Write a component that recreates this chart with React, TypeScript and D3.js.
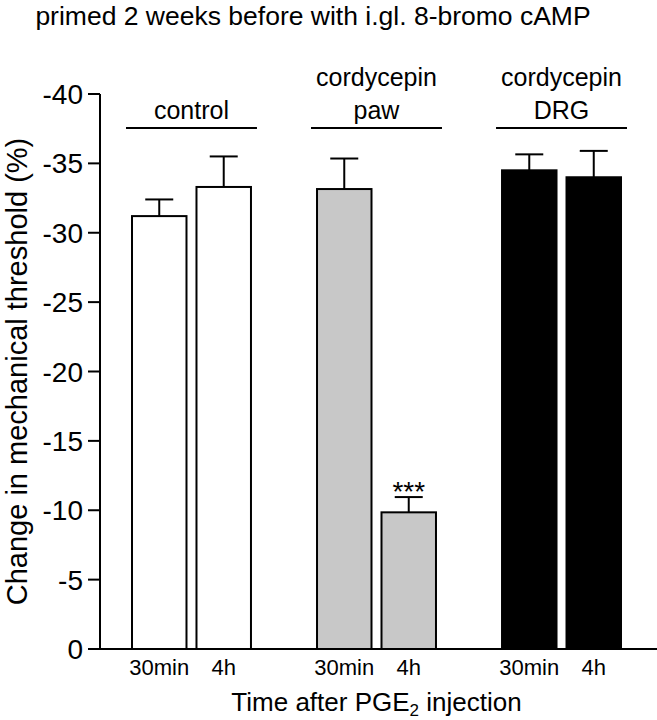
import React from 'react';
import * as d3 from 'd3';

const title = 'primed 2 weeks before with i.gl. 8-bromo cAMP';
const groups = ['control', 'cordycepin paw', 'cordycepin DRG'];
const groupLabelLines = [['control'], ['cordycepin', 'paw'], ['cordycepin', 'DRG']];
const times = ['30min', '4h'];
const controlMeans = [-31.2, -33.3];
const controlSem = [1.2, 2.2];
const pawMeans = [-33.15, -9.85];
const pawSem = [2.2, 1.1];
const drgMeans = [-34.5, -34.0];
const drgSem = [1.15, 1.9];
const groupFills = ['#ffffff', '#c8c8c8', '#000000'];
const significance = [['', ''], ['', '***'], ['', '']];
const yTicks = [0, -5, -10, -15, -20, -25, -30, -35, -40];
const yLabel = 'Change in mechanical threshold (%)';

const means = [controlMeans, pawMeans, drgMeans];
const sems = [controlSem, pawSem, drgSem];

const W = 657;
const H = 720;
const axisX = 100;
const font = 'Liberation Sans, Arial, Helvetica, sans-serif';

export default function App() {
  const y = d3.scaleLinear().domain([0, -40]).range([649, 94]);
  const xg = d3.scaleBand<string>().domain(groups).range([axisX, 653]).paddingInner(0.357).paddingOuter(0.173);
  const xt = d3.scaleBand<string>().domain(times).range([0, xg.bandwidth()]).paddingInner(0.155);
  const bw = xt.bandwidth();
  const capHalf = 14;

  return (
    <svg width={W} height={H} style={{ position: 'absolute', left: 0, top: 0, background: '#fff' }} fontFamily={font}>
      <rect x={0} y={0} width={W} height={H} fill="#fff" />
      <text x={313} y={25} textAnchor="middle" fontSize={26.5} fill="#000">{title}</text>

      {/* y axis */}
      <line x1={axisX} x2={axisX} y1={y(-40)} y2={y(0)} stroke="#000" strokeWidth={2} />
      {yTicks.map((t) => (
        <g key={t}>
          <line x1={axisX - 12} x2={axisX} y1={y(t)} y2={y(t)} stroke="#000" strokeWidth={2} />
          <text x={axisX - 17} y={y(t)} dy="0.36em" textAnchor="end" fontSize={28} fill="#000">{t}</text>
        </g>
      ))}
      <text transform={`translate(27, ${(y(0) + y(-40)) / 2}) rotate(-90)`} textAnchor="middle" fontSize={29} fill="#000">{yLabel}</text>

      {/* bars */}
      {groups.map((g, gi) => (
        <g key={g}>
          {times.map((t, ti) => {
            const x0 = (xg(g) as number) + (xt(t) as number);
            const cx = x0 + bw / 2;
            const m = means[gi][ti];
            const s = sems[gi][ti];
            const top = y(m);
            const capY = y(m - s);
            return (
              <g key={t}>
                <line x1={cx} x2={cx} y1={top} y2={capY} stroke="#000" strokeWidth={2} />
                <line x1={cx - capHalf} x2={cx + capHalf} y1={capY} y2={capY} stroke="#000" strokeWidth={2} />
                <rect x={x0} y={top} width={bw} height={y(0) - top} fill={groupFills[gi]} stroke="#000" strokeWidth={2} />
                {significance[gi][ti] && (
                  <text x={cx} y={capY + 4} textAnchor="middle" fontSize={28} fill="#000">{significance[gi][ti]}</text>
                )}
                <text x={cx} y={675} textAnchor="middle" fontSize={22} fill="#000">{t}</text>
              </g>
            );
          })}
          <line x1={(xg(g) as number) - 6} x2={(xg(g) as number) + xg.bandwidth() + 6} y1={128} y2={128} stroke="#000" strokeWidth={2} />
          {groupLabelLines[gi].map((ln, li, arr) => (
            <text key={li} x={(xg(g) as number) + xg.bandwidth() / 2} y={119 - (arr.length - 1 - li) * 33} textAnchor="middle" fontSize={25} fill="#000">{ln}</text>
          ))}
        </g>
      ))}

      {/* baseline */}
      <line x1={axisX} x2={W} y1={y(0)} y2={y(0)} stroke="#000" strokeWidth={2} />

      <text x={(xg(groups[1]) as number) + xg.bandwidth() / 2} y={711} textAnchor="middle" fontSize={26} fill="#000">
        Time after PGE<tspan fontSize={17} dy={5}>2</tspan><tspan dy={-5}> injection</tspan>
      </text>
    </svg>
  );
}
